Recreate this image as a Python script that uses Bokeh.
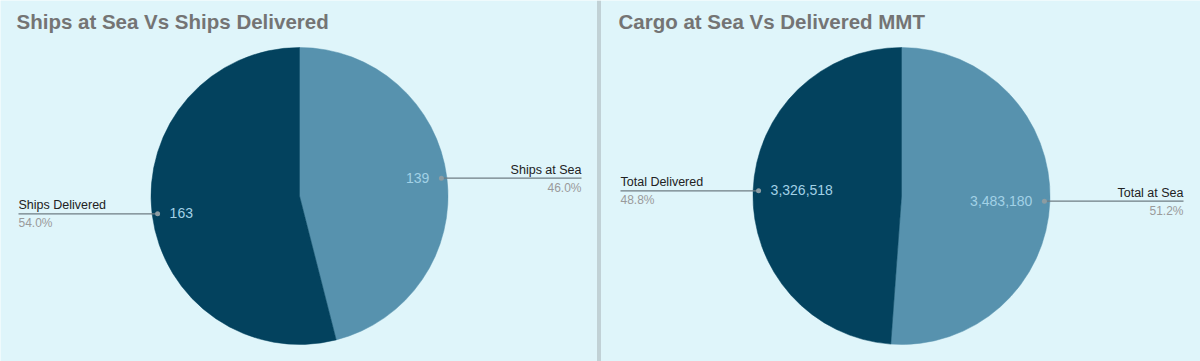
import math
from bokeh.plotting import figure
from bokeh.models import Range1d, Span, ColumnDataSource
from bokeh.core.properties import value
from bokeh.embed import file_html
from bokeh.resources import INLINE

# ---- data ----
titles = ["Ships at Sea Vs Ships Delivered", "Cargo at Sea Vs Delivered MMT"]
categories_1 = ["Ships at Sea", "Ships Delivered"]
values_1 = [139, 163]
categories_2 = ["Total at Sea", "Total Delivered"]
values_2 = [3483180, 3326518]
slice_colors = ["#5792ae", "#03425e"]

W, H = 1200, 361
BG = "#dff5fa"
FONT = value("Liberation Sans")

p = figure(width=W, height=H, x_range=Range1d(0, W), y_range=Range1d(0, H),
           output_backend="svg", toolbar_location=None,
           x_axis_location=None, y_axis_location=None, min_border=0)
p.grid.visible = False
p.outline_line_color = None
p.background_fill_color = BG
p.border_fill_color = BG


def Y(ys):
    return H - ys


panels = [(0, titles[0], categories_1, values_1), (602, titles[1], categories_2, values_2)]
R = 148.5
R_DOT = 143
CY = 195.5

for ox, title, cats, vals in panels:
    cx = ox + 299
    total = float(sum(vals))
    fracs = [v / total for v in vals]
    cum = 0.0
    starts, ends, mids = [], [], []
    for f in fracs:
        starts.append(math.pi / 2 - 2 * math.pi * cum)
        ends.append(math.pi / 2 - 2 * math.pi * (cum + f))
        mids.append(2 * math.pi * (cum + f / 2))  # clockwise from top
        cum += f
    src = ColumnDataSource(dict(start=starts, end=ends, color=slice_colors[:len(vals)]))
    p.wedge(x=cx, y=Y(CY), radius=R, start_angle="start", end_angle="end",
            direction="clock", fill_color="color", line_color="color", line_width=0.5,
            source=src)

    # title
    p.text(x=[ox + 16], y=[Y(20.5)], text=[title], text_font=FONT, text_font_size="20.5px",
           text_font_style="bold", text_color="#747474", text_baseline="middle")

    for cat, v, f, m in zip(cats, vals, fracs, mids):
        dx = ox + 299 + R_DOT * math.sin(m)
        dy = CY - R_DOT * math.cos(m)
        right = math.sin(m) > 0
        end_x = ox + 581 if right else ox + 18
        align = "right" if right else "left"
        p.segment(x0=[dx], y0=[Y(dy)], x1=[end_x], y1=[Y(dy)], line_color="#6f7d83", line_width=1.2)
        p.scatter(x=[dx], y=[Y(dy)], size=5, fill_color="#8c9ca2", line_color=None)
        p.text(x=[end_x], y=[Y(dy - 8.5)], text=[cat], text_font=FONT, text_font_size="12.5px",
               text_color="#222222", text_align=align, text_baseline="middle")
        p.text(x=[end_x], y=[Y(dy + 9.5)], text=[f"{f * 100:.1f}%"], text_font=FONT,
               text_font_size="12px", text_color="#9a9a9a", text_align=align, text_baseline="middle")
        vx = dx - 12 if right else dx + 12
        p.text(x=[vx], y=[Y(dy - 0.5)], text=[f"{v:,}"], text_font=FONT, text_font_size="14px",
               text_color="#a2d1e6", text_align="right" if right else "left", text_baseline="middle")

for xloc in (597.5, 599.5):
    p.add_layout(Span(location=xloc, dimension="height", line_color="#a3aeb1", line_width=1))

open("out.html", "w").write(file_html(p, INLINE))
